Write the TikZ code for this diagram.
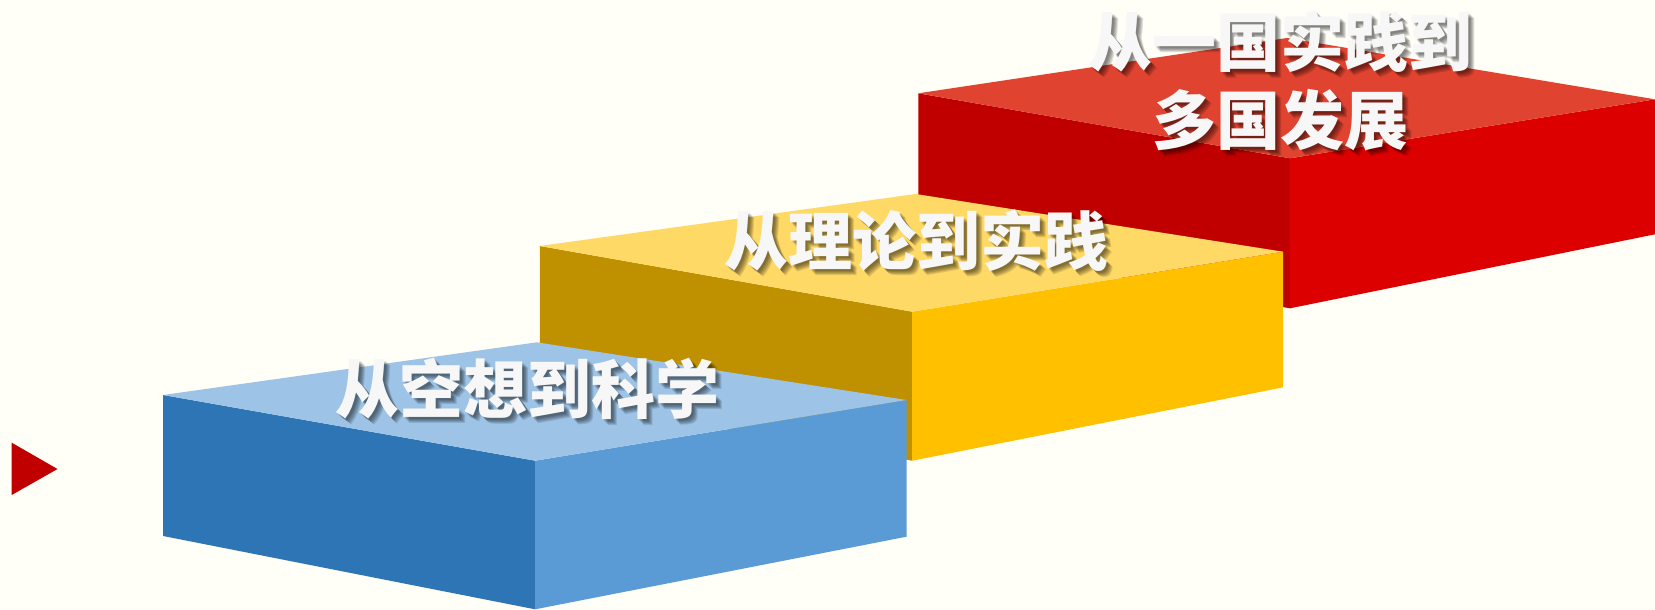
\documentclass[tikz,border=0pt]{standalone}
\usepackage{fontspec}
\newfontfamily\cjk{Noto Sans CJK SC}
\definecolor{bgcol}{HTML}{FFFEF7}
\definecolor{bluel}{HTML}{2E75B6}
\definecolor{bluer}{HTML}{5B9BD5}
\definecolor{bluet}{HTML}{9DC3E6}
\definecolor{yell}{HTML}{BF9000}
\definecolor{yelr}{HTML}{FFC000}
\definecolor{yelt}{HTML}{FFD966}
\definecolor{redl}{HTML}{C00000}
\definecolor{redr}{HTML}{DC0000}
\definecolor{redt}{HTML}{E0432F}
\definecolor{txtcol}{HTML}{F7F7F7}
\tikzset{
  lbl/.style={font=\cjk\bfseries\fontsize{64}{78}\selectfont, text=txtcol, align=center, inner sep=0pt},
  lblshadow/.style={font=\cjk\bfseries\fontsize{64}{78}\selectfont, text=black, text opacity=0.12, align=center, inner sep=0pt},
}
\newcommand{\shtext}[3]{%
  \foreach \d in {2,3,4,5,6} {\node[lblshadow] at ($(#2)+(\d,\d)$) {#3};}
  \node[lbl] (#1) at (#2) {#3};}
\usetikzlibrary{calc}
\begin{document}
\begin{tikzpicture}[x=1pt,y=-1pt]
\fill[bgcol] (0,0) rectangle (1655,610);
\useasboundingbox (0,0) rectangle (1655,610);
\begin{scope}
\clip (0,0) rectangle (1655,610);
% red box
\fill[redl] (918.3,93.3) -- (1290,158.3) -- (1290,308.3) -- (918.3,243) -- cycle;
\fill[redr] (1290,158.3) -- (1655,99.3) -- (1655,234.3) -- (1290,308.3) -- cycle;
\fill[redt] (918.3,93.3) -- (1287,38) -- (1655,99.3) -- (1290,158.3) -- cycle;
% yellow box
\fill[yell] (539.8,246) -- (912.2,311.7) -- (912.2,460.7) -- (539.8,395) -- cycle;
\fill[yelr] (912.2,311.7) -- (1283.2,251.7) -- (1283.2,387.3) -- (912.2,460.7) -- cycle;
\fill[yelt] (539.8,246) -- (915.8,194) -- (1283.2,251.7) -- (912.2,311.7) -- cycle;
% blue box
\fill[bluel] (163.1,395) -- (535.1,460.7) -- (535.1,609.3) -- (163.1,536) -- cycle;
\fill[bluer] (535.1,460.7) -- (906.5,400) -- (906.5,536.7) -- (535.1,609.3) -- cycle;
\fill[bluet] (163.1,395) -- (536.9,342.3) -- (906.5,400) -- (535.1,460.7) -- cycle;
\end{scope}
% marker triangle
\fill[redl] (11.7,442.7) -- (57.5,469) -- (11.7,495) -- cycle;
% labels
\coordinate (pb) at (527,389);
\coordinate (py) at (916,241);
\coordinate (pr) at (1280,81);
\shtext{tb}{pb}{从空想到科学}
\shtext{ty}{py}{从理论到实践}
\shtext{tr}{pr}{从一国实践到\\多国发展}
\end{tikzpicture}
\end{document}
